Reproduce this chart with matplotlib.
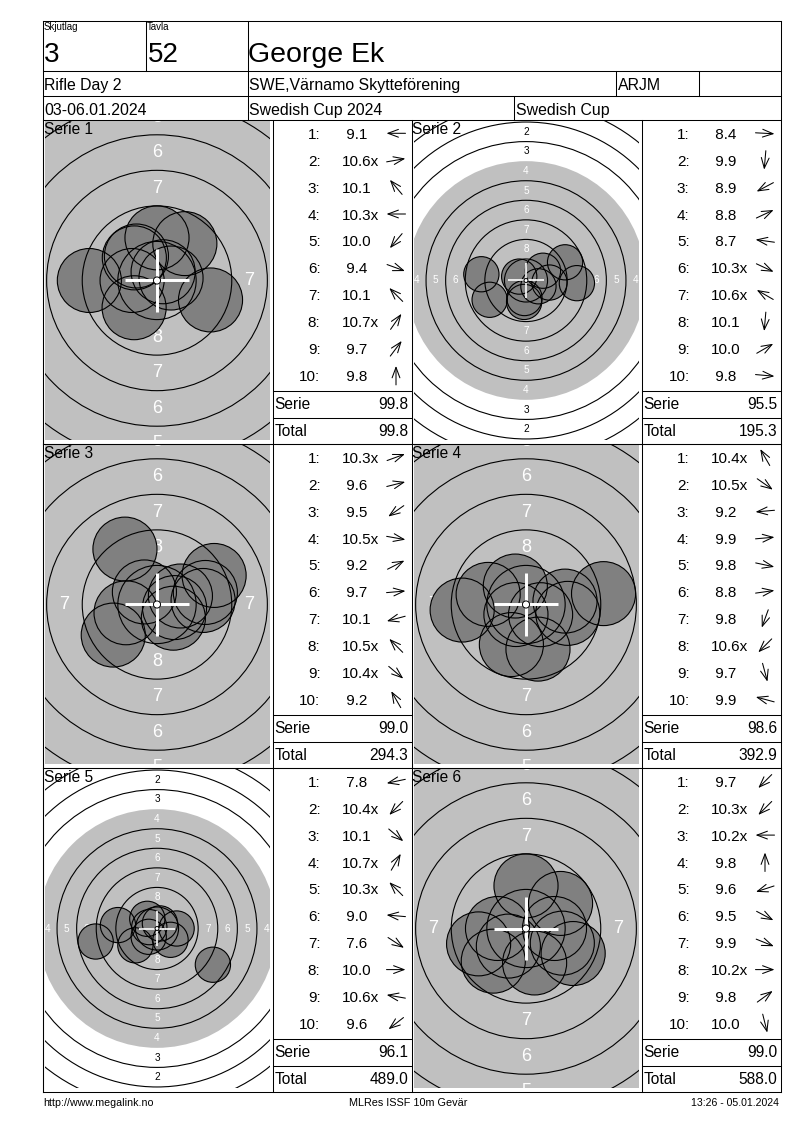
import matplotlib
matplotlib.use("Agg")
import matplotlib.pyplot as plt
from matplotlib.patches import Circle
import numpy as np

plt.rcParams["font.family"] = ["Liberation Sans", "DejaVu Sans"]

# header / footer texts
squad = "3"
target_no = "52"
shooter = "George Ek"
event = "Rifle Day 2"
club = "SWE,Värnamo Skytteförening"
shooter_class = "ARJM"
dates = "03-06.01.2024"
competition = "Swedish Cup 2024"
cup = "Swedish Cup"
footer_left = "http://www.megalink.no"
footer_mid = "MLRes ISSF 10m Gevär"
footer_right = "13:26 - 05.01.2024"

# shots per series: decimal score and direction (degrees, 0 = right, 90 = up)
series_names = ["Serie 1", "Serie 2", "Serie 3", "Serie 4", "Serie 5", "Serie 6"]
scores = [
    [9.1, 10.6, 10.1, 10.3, 10.0, 9.4, 10.1, 10.7, 9.7, 9.8],
    [8.4, 9.9, 8.9, 8.8, 8.7, 10.3, 10.6, 10.1, 10.0, 9.8],
    [10.3, 9.6, 9.5, 10.5, 9.2, 9.7, 10.1, 10.5, 10.4, 9.2],
    [10.4, 10.5, 9.2, 9.9, 9.8, 8.8, 9.8, 10.6, 9.7, 9.9],
    [7.8, 10.4, 10.1, 10.7, 10.3, 9.0, 7.6, 10.0, 10.6, 9.6],
    [9.7, 10.3, 10.2, 9.8, 9.6, 9.5, 9.9, 10.2, 9.8, 10.0],
]
angles = [
    [180, 10, 130, 180, 230, -20, 135, 55, 53, 90],
    [-3, -95, 208, 25, 172, -25, 150, -95, 30, -5],
    [20, 14, 215, -10, 27, 5, 195, 135, -40, 120],
    [120, -35, 185, 5, -12, 8, 250, 225, -75, 165],
    [192, 225, -40, 60, 135, 175, -33, 0, 170, 218],
    [225, 225, 180, 90, 198, -28, -22, 0, 36, -76],
]
# half width of each target view in mm
view_half = [7.9, 14.35, 7.9, 7.9, 14.35, 7.9]

# ISSF 10m air rifle target
ring_r = {n: 0.25 + (10 - n) * 2.5 for n in range(1, 11)}
pellet_r = 2.25
GRAY = "#c0c0c0"
SHOT = "#808080"

W, H = 800, 1130
fig = plt.figure(figsize=(W / 100, H / 100), dpi=100)

left, right, top = 42.5, 780.5, 20.5
row_h = 324
grid_top = 119.5
col_x = [42.5, 272.5, 411.5, 641.5, 780.5]


def draw_target(ax, sc, ang, half_w):
    px_mm = (224.6 / 2) / half_w
    half_h = (319 / 2) / px_mm
    ax.set_xlim(-half_w, half_w)
    ax.set_ylim(-half_h, half_h)
    ax.axis("off")
    ax.add_patch(Circle((0, 0), ring_r[4], fc=GRAY, ec="none", zorder=0))
    for n in range(1, 9):
        rr = (ring_r[n] + ring_r[n + 1]) / 2
        col = "white" if n >= 4 else "black"
        for x, y in [(0, rr), (0, -rr), (rr, 0), (-rr, 0)]:
            ax.text(x, y, str(n), color=col, fontsize=0.92 * px_mm,
                    ha="center", va="center", zorder=1, clip_on=True)
    sc = np.array(sc)
    a = np.radians(ang)
    dist = (11 - sc) * 2.5
    xs, ys = dist * np.cos(a), dist * np.sin(a)
    for x, y in zip(xs, ys):
        ax.add_patch(Circle((x, y), pellet_r, fc=SHOT, ec="none", zorder=2))
    for n in range(1, 10):
        if n == 4:
            continue
        ax.add_patch(Circle((0, 0), ring_r[n], fill=False, ec="black", lw=0.8, zorder=3))
    for x, y in zip(xs, ys):
        ax.add_patch(Circle((x, y), pellet_r, fill=False, ec="black", lw=0.8, zorder=4))
    lw = 0.15 * px_mm
    ax.plot([-pellet_r, pellet_r], [0, 0], color="white", lw=lw, zorder=5, solid_capstyle="butt")
    ax.plot([0, 0], [-pellet_r, pellet_r], color="white", lw=lw, zorder=5, solid_capstyle="butt")
    ax.add_patch(Circle((0, 0), ring_r[10], fc="white", ec="black", lw=0.7, zorder=6))


# target panels
for i in range(6):
    r, c = divmod(i, 2)
    row_top = grid_top + r * row_h
    x0 = col_x[2 * c] + 2
    y0 = row_top + 1.5
    ax = fig.add_axes([x0 / W, 1 - (y0 + 319) / H, 225 / W, 319 / H])
    draw_target(ax, scores[i], angles[i], view_half[i])

# overlay for grid lines and text
ov = fig.add_axes([0, 0, 1, 1], zorder=10)
ov.set_xlim(0, W)
ov.set_ylim(H, 0)
ov.axis("off")
ov.patch.set_alpha(0)

LW = 0.75
def hline(y, x1, x2):
    ov.plot([x1, x2], [y, y], color="black", lw=LW, solid_capstyle="projecting")

def vline(x, y1, y2):
    ov.plot([x, x], [y1, y2], color="black", lw=LW, solid_capstyle="projecting")

# header frame
bottom = grid_top + 3 * row_h
for y in [top, 70.5, 95.5, grid_top, bottom]:
    hline(y, left, right)
vline(left, top, bottom)
vline(right, top, bottom)
vline(145.5, top, 70.5)
vline(247.5, top, grid_top)
vline(615.5, 70.5, 95.5)
vline(698.5, 70.5, 95.5)
vline(513.5, 95.5, grid_top)

ov.text(44, 27.5, "Skjutlag", fontsize=7, va="center")
ov.text(146.5, 27.5, "Tavla", fontsize=7, va="center")
ov.text(43.5, 62, squad, fontsize=20, va="baseline")
ov.text(147.5, 62, target_no, fontsize=20, va="baseline")
ov.text(248.5, 62, shooter, fontsize=20.5, va="baseline")
ov.text(44, 90, event, fontsize=11.4, va="baseline")
ov.text(249, 90, club, fontsize=11.4, va="baseline")
ov.text(617.5, 90, shooter_class, fontsize=11.4, va="baseline")
ov.text(44, 115, dates, fontsize=11.4, va="baseline")
ov.text(249, 115, competition, fontsize=11.4, va="baseline")
ov.text(515.5, 115, cup, fontsize=11.4, va="baseline")

# series tables
total = 0.0
for i in range(6):
    r, c = divmod(i, 2)
    row_top = grid_top + r * row_h
    tx = col_x[2 * c + 1]
    tx_end = col_x[2 * c + 2]
    if r > 0:
        hline(row_top, left, right)
    vline(col_x[2 * c], row_top, row_top + row_h)
    vline(tx, row_top, row_top + row_h)
    hline(row_top + 271, tx, tx_end)
    hline(row_top + 298, tx, tx_end)
    ov.text(col_x[2 * c] + 1, row_top + 14.8, series_names[i], fontsize=11.2, va="baseline")
    for k, (s, a) in enumerate(zip(scores[i], angles[i])):
        yc = row_top + 13.8 + 26.9 * k
        ov.text(tx + 48, yc + 5.5, f"{k + 1}:", fontsize=11, ha="right", va="baseline")
        label = f"{s:4.1f}" + ("x" if s >= 10.2 else "")
        ov.text(tx + 69.4, yc + 5.5, label, fontsize=11, ha="left", va="baseline")
        ar = np.radians(a)
        cx = tx + 123.5
        L = 9.5
        ov.annotate("", xy=(cx + L * np.cos(ar), yc - L * np.sin(ar)),
                    xytext=(cx - L * np.cos(ar), yc + L * np.sin(ar)),
                    arrowprops=dict(arrowstyle="->,head_length=0.75,head_width=0.28",
                                    lw=0.75, color="black", shrinkA=0, shrinkB=0))
    serie_sum = round(sum(scores[i]), 1)
    total = round(total + serie_sum, 1)
    ov.text(tx + 2, row_top + 289.3, "Serie", fontsize=11.2, va="baseline")
    ov.text(tx_end - 3, row_top + 289.3, f"{serie_sum:.1f}", fontsize=11.2, ha="right", va="baseline")
    ov.text(tx + 2, row_top + 316, "Total", fontsize=11.2, va="baseline")
    ov.text(tx_end - 3, row_top + 316, f"{total:.1f}", fontsize=11.2, ha="right", va="baseline")

# footer
ov.text(43, 1106, footer_left, fontsize=7.7, va="baseline")
ov.text(408, 1106, footer_mid, fontsize=7.8, ha="center", va="baseline")
ov.text(779, 1106, footer_right, fontsize=7.6, ha="right", va="baseline")

fig.savefig("out.png", dpi=100, facecolor="white")
